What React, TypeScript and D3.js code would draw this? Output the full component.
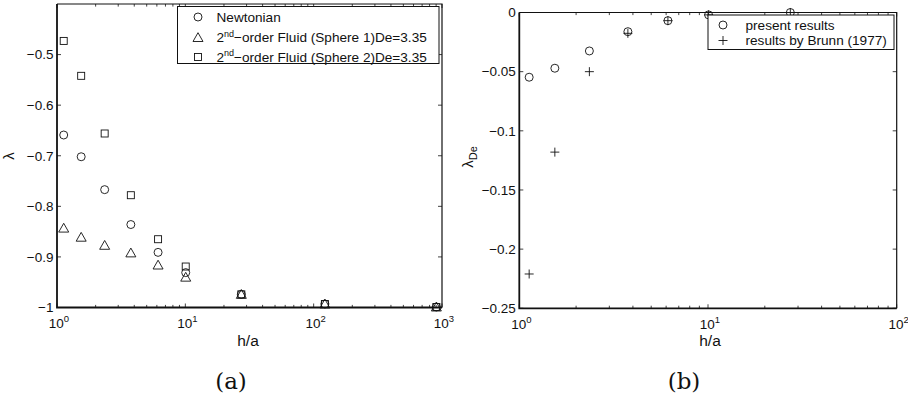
import React from "react";
import * as d3 from "d3";

// ---------- data ----------
const hOverA = [1.128, 1.543, 2.352, 3.762, 6.132, 10.07, 27.31, 122.3, 904];
const newtonian = [-0.659, -0.702, -0.767, -0.836, -0.891, -0.931, -0.974, -0.993, -0.999];
const sphere1 = [-0.843, -0.861, -0.877, -0.892, -0.916, -0.94, -0.974, -0.993, -0.999];
const sphere2 = [-0.473, -0.542, -0.656, -0.778, -0.865, -0.919, -0.974, -0.993, -0.999];

const hOverB = [1.128, 1.543, 2.352, 3.762, 6.132, 10.07, 27.31];
const presentResults = [-0.0547, -0.0471, -0.0325, -0.0162, -0.0069, -0.002, 0];
const brunnResults = [-0.221, -0.118, -0.05, -0.0176, -0.0069, -0.002, 0];

const leftYTicks = [-1, -0.9, -0.8, -0.7, -0.6, -0.5];
const leftYTickLabels = ["\u22121", "\u22120.9", "\u22120.8", "\u22120.7", "\u22120.6", "\u22120.5"];
const leftXDecades = [0, 1, 2, 3];
const rightYTicks = [-0.25, -0.2, -0.15, -0.1, -0.05, 0];
const rightYTickLabels = ["\u22120.25", "\u22120.2", "\u22120.15", "\u22120.1", "\u22120.05", "0"];
const rightXDecades = [0, 1, 2];

const legendLeft = ["Newtonian", "(Sphere 1)De=3.35", "(Sphere 2)De=3.35"];
const legendRight = ["present results", "results by Brunn (1977)"];

const FONT = "'Liberation Sans', Arial, Helvetica, sans-serif";
const TICK_FS = 13.5;
const LEG_FS = 13.6;
const STROKE = "#111";

type Marker = "o" | "^" | "s" | "+";

function MarkerShape({ type, x, y }: { type: Marker; x: number; y: number }) {
  const sw = 0.9;
  if (type === "o") return <circle cx={x} cy={y} r={4} fill="none" stroke={STROKE} strokeWidth={sw} />;
  if (type === "s")
    return <rect x={x - 3.5} y={y - 3.5} width={7} height={7} fill="none" stroke={STROKE} strokeWidth={sw} />;
  if (type === "^")
    return (
      <path
        d={`M${x},${y - 4.8}L${x + 5},${y + 4}L${x - 5},${y + 4}Z`}
        fill="none"
        stroke={STROKE}
        strokeWidth={sw}
      />
    );
  return (
    <path d={`M${x - 4.5},${y}H${x + 4.5}M${x},${y - 4.5}V${y + 4.5}`} fill="none" stroke={STROKE} strokeWidth={sw} />
  );
}

function LogAxes({
  x,
  y,
  decades,
  yTicks,
  yLabels,
}: {
  x: d3.ScaleLogarithmic<number, number>;
  y: d3.ScaleLinear<number, number>;
  decades: number[];
  yTicks: number[];
  yLabels: string[];
}) {
  const [x0, x1] = x.range();
  const [yb, yt] = y.range();
  const majorLen = 4;
  const minorLen = 2.6;
  const minor: number[] = [];
  for (let i = 0; i < decades.length - 1; i++) {
    for (let k = 2; k <= 9; k++) minor.push(k * Math.pow(10, decades[i]));
  }
  const items: React.ReactNode[] = [];
  decades.forEach((d, i) => {
    const px = x(Math.pow(10, d));
    items.push(
      <path key={`xm${i}`} d={`M${px},${yb}V${yb - majorLen}M${px},${yt}V${yt + majorLen}`} stroke={STROKE} strokeWidth={0.8} />
    );
    items.push(
      <text key={`xl${i}`} x={px + 2} y={yb + 20.5} textAnchor="middle" fontFamily={FONT} fontSize={TICK_FS} fill="#111">
        <tspan>10</tspan>
        <tspan dy={-6} fontSize={9.5}>
          {String(d)}
        </tspan>
      </text>
    );
  });
  minor.forEach((v, i) => {
    const px = x(v);
    items.push(
      <path key={`xn${i}`} d={`M${px},${yb}V${yb - minorLen}M${px},${yt}V${yt + minorLen}`} stroke={STROKE} strokeWidth={0.8} />
    );
  });
  yTicks.forEach((v, i) => {
    const py = y(v);
    items.push(
      <path key={`ym${i}`} d={`M${x0},${py}H${x0 + majorLen}M${x1},${py}H${x1 - majorLen}`} stroke={STROKE} strokeWidth={0.8} />
    );
    items.push(
      <text key={`yl${i}`} x={x0 - 3.5} y={py + 4.8} textAnchor="end" fontFamily={FONT} fontSize={TICK_FS} fill="#111">
        {yLabels[i]}
      </text>
    );
  });
  return (
    <g>
      <path d={`M${x0},${yt}H${x1}V${yb}`} fill="none" stroke={STROKE} strokeWidth={1.2} />
      <path d={`M${x0},${yt}V${yb}H${x1}`} fill="none" stroke={STROKE} strokeWidth={1.8} />
      {items}
    </g>
  );
}

export default function App() {
  const xa = d3.scaleLog().domain([1, 1000]).range([57, 442]);
  const ya = d3.scaleLinear().domain([-1, -0.4]).range([307.5, 4]);
  const xb = d3.scaleLog().domain([1, 100]).range([519.3, 896.7]);
  const yb = d3.scaleLinear().domain([-0.25, 0]).range([308.3, 12.5]);

  const lx0 = 177.5,
    ly0 = 6.5,
    lw = 261.5,
    lh = 57;
  const rx0 = 708,
    ry0 = 15,
    rw = 186,
    rh = 34.5;

  return (
    <div style={{ position: "fixed", left: 0, top: 0, width: 908, height: 400, background: "#fff" }}>
      <svg width={908} height={400} style={{ display: "block" }}>
        <rect width={908} height={400} fill="#fff" />
        {/* ---------- panel (a) ---------- */}
        <LogAxes x={xa} y={ya} decades={leftXDecades} yTicks={leftYTicks} yLabels={leftYTickLabels} />
        {hOverA.map((h, i) => (
          <MarkerShape key={`n${i}`} type="o" x={xa(h)} y={ya(newtonian[i])} />
        ))}
        {hOverA.map((h, i) => (
          <MarkerShape key={`t${i}`} type="^" x={xa(h)} y={ya(sphere1[i])} />
        ))}
        {hOverA.map((h, i) => (
          <MarkerShape key={`s${i}`} type="s" x={xa(h)} y={ya(sphere2[i])} />
        ))}
        <g>
          <rect x={lx0} y={ly0} width={lw} height={lh} fill="#fff" stroke={STROKE} strokeWidth={1} />
          <MarkerShape type="o" x={198} y={17} />
          <MarkerShape type="^" x={198} y={37.5} />
          <MarkerShape type="s" x={198} y={57} />
          <text x={216.5} y={21.8} fontFamily={FONT} fontSize={LEG_FS} fill="#111">
            {legendLeft[0]}
          </text>
          <text x={216.5} y={42.3} fontFamily={FONT} fontSize={LEG_FS} fill="#111">
            <tspan>2</tspan>
            <tspan dy={-5.5} fontSize={9}>nd</tspan>
            <tspan dy={5.5}>{"\u2212order Fluid " + legendLeft[1]}</tspan>
          </text>
          <text x={216.5} y={61.8} fontFamily={FONT} fontSize={LEG_FS} fill="#111">
            <tspan>2</tspan>
            <tspan dy={-5.5} fontSize={9}>nd</tspan>
            <tspan dy={5.5}>{"\u2212order Fluid " + legendLeft[2]}</tspan>
          </text>
        </g>
        <text transform={`translate(14,156) rotate(-90)`} textAnchor="middle" fontFamily={FONT} fontSize={15} fill="#111">
          λ
        </text>
        <text x={248} y={346} textAnchor="middle" fontFamily={FONT} fontSize={15.5} fill="#111">
          h/a
        </text>
        <text x={231} y={388.5} textAnchor="middle" fontFamily="'DejaVu Serif', serif" fontSize={23} fill="#111">
          (a)
        </text>

        {/* ---------- panel (b) ---------- */}
        <LogAxes x={xb} y={yb} decades={rightXDecades} yTicks={rightYTicks} yLabels={rightYTickLabels} />
        {hOverB.map((h, i) => (
          <MarkerShape key={`p${i}`} type="o" x={xb(h)} y={yb(presentResults[i])} />
        ))}
        {hOverB.map((h, i) => (
          <MarkerShape key={`b${i}`} type="+" x={xb(h)} y={yb(brunnResults[i])} />
        ))}
        <g>
          <rect x={rx0} y={ry0} width={rw} height={rh} fill="#fff" stroke={STROKE} strokeWidth={1} />
          <MarkerShape type="o" x={723} y={25} />
          <MarkerShape type="+" x={723} y={40.5} />
          <text x={745.5} y={29.8} fontFamily={FONT} fontSize={LEG_FS} fill="#111">
            {legendRight[0]}
          </text>
          <text x={745.5} y={45.3} fontFamily={FONT} fontSize={LEG_FS} fill="#111">
            {legendRight[1]}
          </text>
        </g>
        <text transform={`translate(473,157) rotate(-90)`} textAnchor="middle" fontFamily={FONT} fontSize={15} fill="#111">
          <tspan>λ</tspan>
          <tspan dy={4} fontSize={11}>De</tspan>
        </text>
        <text x={710} y={346} textAnchor="middle" fontFamily={FONT} fontSize={15.5} fill="#111">
          h/a
        </text>
        <text x={684} y={388.5} textAnchor="middle" fontFamily="'DejaVu Serif', serif" fontSize={23} fill="#111">
          (b)
        </text>
      </svg>
    </div>
  );
}
